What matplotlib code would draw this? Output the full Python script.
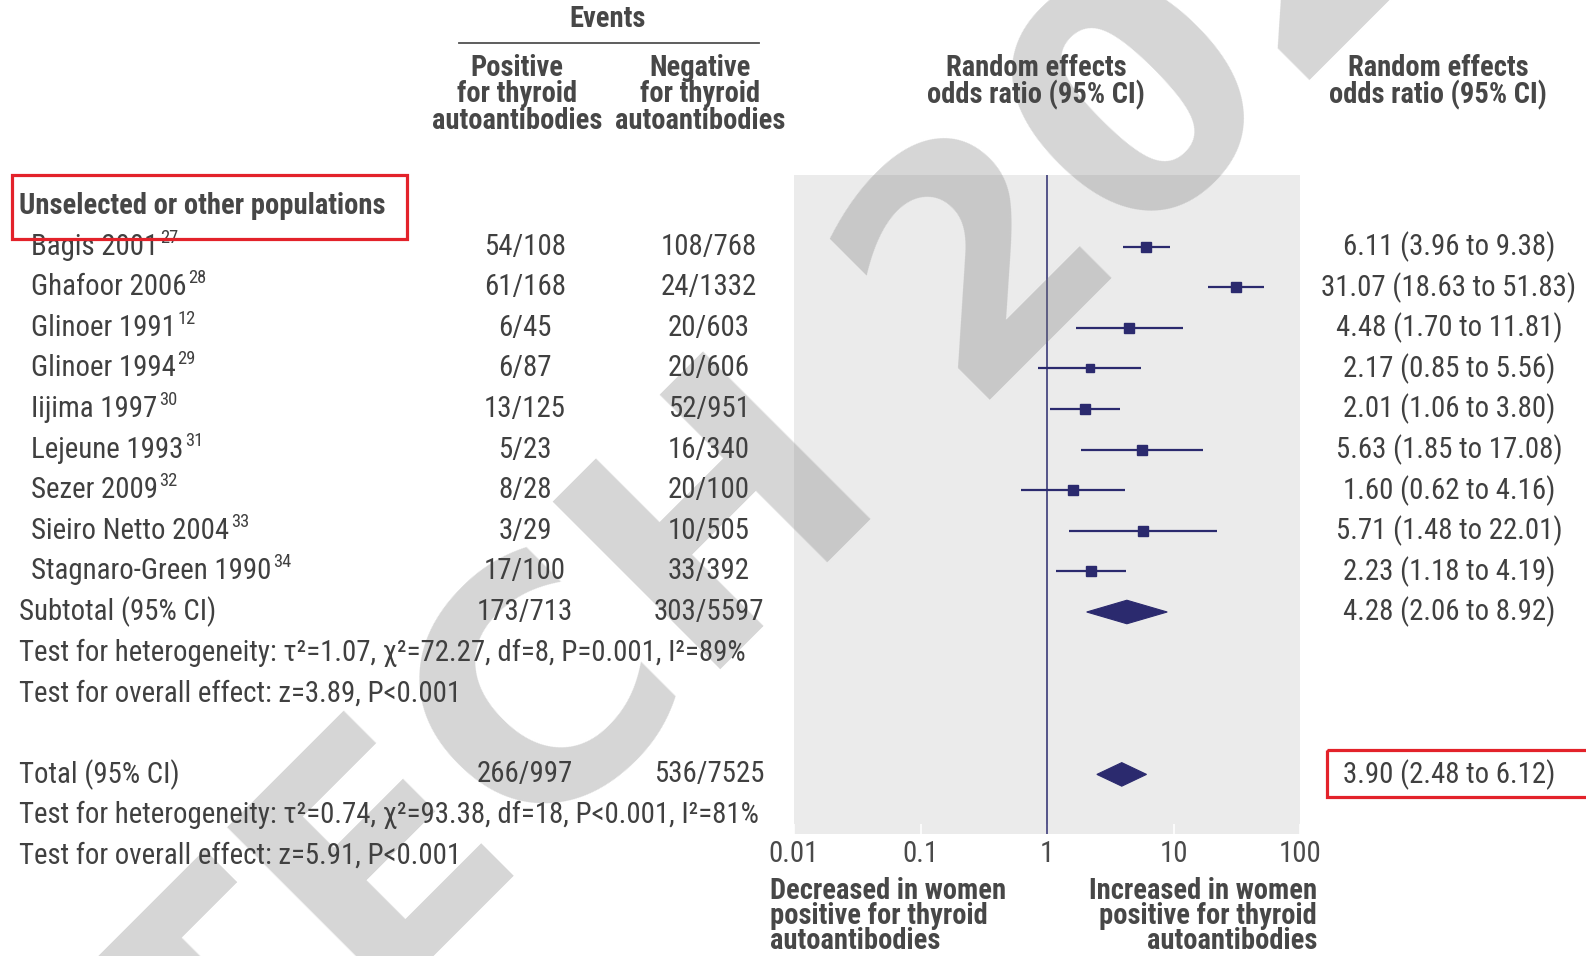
import matplotlib
matplotlib.use("Agg")
import matplotlib.pyplot as plt
from matplotlib.patches import Rectangle, Polygon
from matplotlib import font_manager as fm

# ---------------- data ----------------
studies = ["Bagis 2001", "Ghafoor 2006", "Glinoer 1991", "Glinoer 1994", "Iijima 1997",
           "Lejeune 1993", "Sezer 2009", "Sieiro Netto 2004", "Stagnaro-Green 1990"]
refs = ["27", "28", "12", "29", "30", "31", "32", "33", "34"]
pos_events = ["54/108", "61/168", "6/45", "6/87", "13/125", "5/23", "8/28", "3/29", "17/100"]
neg_events = ["108/768", "24/1332", "20/603", "20/606", "52/951", "16/340", "20/100", "10/505", "33/392"]
odds_ratio = [6.11, 31.07, 4.48, 2.17, 2.01, 5.63, 1.60, 5.71, 2.23]
ci_low = [3.96, 18.63, 1.70, 0.85, 1.06, 1.85, 0.62, 1.48, 1.18]
ci_high = [9.38, 51.83, 11.81, 5.56, 3.80, 17.08, 4.16, 22.01, 4.19]

subtotal_or = [4.28, 2.06, 8.92]
subtotal_events = ["173/713", "303/5597"]
total_or = [3.90, 2.48, 6.12]
total_events = ["266/997", "536/7525"]

group_label = "Unselected or other populations"
subtotal_het = "Test for heterogeneity: τ²=1.07, χ²=72.27, df=8, P=0.001, I²=89%"
subtotal_eff = "Test for overall effect: z=3.89, P<0.001"
total_het = "Test for heterogeneity: τ²=0.74, χ²=93.38, df=18, P<0.001, I²=81%"
total_eff = "Test for overall effect: z=5.91, P<0.001"

col_pos_header = "Positive\nfor thyroid\nautoantibodies"
col_neg_header = "Negative\nfor thyroid\nautoantibodies"
col_or_header = "Random effects\nodds ratio (95% CI)"
left_direction = "Decreased in women\npositive for thyroid\nautoantibodies"
right_direction = "Increased in women\npositive for thyroid\nautoantibodies"
watermark = "TECH 2024"

x_ticks = [0.01, 0.1, 1, 10, 100]
x_tick_labels = ["0.01", "0.1", "1", "10", "100"]

# ---------------- style ----------------
W, H = 1586, 956
NAVY = "#2b2a6e"
TXT = "#404040"
HDR = "#474747"
RED = "#e3222a"
PANEL = "#ebebeb"


def pick_font():
    ttf = fm.fontManager.ttflist
    names = {f.name for f in ttf}
    for n in ["Liberation Sans Narrow", "Roboto Condensed", "Open Sans Condensed",
              "Noto Sans Condensed", "DejaVu Sans Condensed"]:
        if n in names:
            return n, "normal"
    for n in ["DejaVu Sans", "Noto Sans", "Roboto", "Open Sans", "Lato", "Inter"]:
        st = [f.stretch for f in ttf if f.name == n and
              str(f.stretch) in ("condensed", "semi-condensed", "extra-condensed")]
        if st:
            return n, st[0]
    return "Lato", "normal"


FONT, STRETCH = pick_font()
plt.rcParams["font.family"] = [FONT, "DejaVu Sans"]
plt.rcParams["font.stretch"] = STRETCH

square_px = [6.8, 6.8, 6.8, 5.4, 6.8, 6.8, 6.8, 6.8, 6.8]


def row_y(i):
    return 206 + 40.6 * i


fig = plt.figure(figsize=(W / 100, H / 100), dpi=100)
fig.patch.set_facecolor("white")
renderer = fig.canvas.get_renderer()


def width_of(s, size, weight="normal"):
    t = fig.text(0, 0, s, fontsize=size, fontweight=weight)
    w = t.get_window_extent(renderer).width
    t.remove()
    return w


def linespacing_for(s, pitch_px, size, weight="normal"):
    t1 = fig.text(0, 0, s.split("\n")[0], fontsize=size, fontweight=weight)
    tn = fig.text(0, 0, s, fontsize=size, fontweight=weight, linespacing=1.0)
    h1 = t1.get_window_extent(renderer).height
    hn = tn.get_window_extent(renderer).height
    t1.remove()
    tn.remove()
    pitch = (hn - h1) / max(1, s.count("\n"))
    return pitch_px / pitch


BODY = min(21.0, 20 * 726 / width_of(subtotal_het, 20))
BOLD = min(21.0, 20 * 365 / width_of(group_label, 20, "bold"))
LS_HDR = linespacing_for(col_pos_header, 26.0, BOLD, "bold")
LS_DIR = linespacing_for(left_direction, 24.0, BOLD, "bold")

# forest panel
ax = fig.add_axes([794 / W, 1 - 834 / H, (1300 - 794) / W, (834 - 175) / H], zorder=1)
ax.set_facecolor(PANEL)
ax.set_xscale("log")
ax.set_xlim(0.01, 100)
ax.set_ylim((834 - 206) / 40.6, (175 - 206) / 40.6)
for s in ax.spines.values():
    s.set_visible(False)
ax.set_yticks([])
ax.set_xticks(x_ticks)
ax.set_xticklabels(x_tick_labels)
ax.minorticks_off()
ax.tick_params(axis="x", direction="in", length=7, width=1.2, color="white",
               labelsize=BODY, labelcolor="#4a4a4a", pad=4)
ax.axvline(1, color=NAVY, lw=1.1, zorder=2)

for i in range(len(studies)):
    y = i + 1
    ax.plot([ci_low[i], ci_high[i]], [y, y], color=NAVY, lw=1.6, solid_capstyle="butt", zorder=3)
    ax.plot([odds_ratio[i]], [y], marker="s", ms=square_px[i], color=NAVY, mec=NAVY, zorder=4)


def diamond(vals, y, half=0.29):
    est, lo, hi = vals
    ax.add_patch(Polygon([[lo, y], [est, y - half], [hi, y], [est, y + half]],
                         closed=True, fc=NAVY, ec=NAVY, lw=0.8, zorder=4))


diamond(subtotal_or, 10)
diamond(total_or, 14)

# overlay for text
ov = fig.add_axes([0, 0, 1, 1], zorder=3)
ov.set_xlim(0, W)
ov.set_ylim(H, 0)
ov.axis("off")
ov.patch.set_alpha(0)

# watermark (baseline start anchored, rotated 45 degrees)
ov.text(217, 1172, watermark, rotation=45, rotation_mode="anchor", fontsize=234,
        fontweight="bold", family="DejaVu Sans", stretch="normal", color="#767676", alpha=0.3,
        ha="left", va="baseline", zorder=0, clip_on=True)

# headers
ov.text(608, 19, "Events", ha="center", va="center", fontsize=BOLD, fontweight="bold", color=HDR)
ov.plot([459, 759], [42.5, 42.5], color="#505050", lw=1.3)
for x, s in [(517, col_pos_header), (700, col_neg_header), (1036, col_or_header), (1438, col_or_header)]:
    ov.text(x, 54, s, ha="center", va="top", multialignment="center",
            fontsize=BOLD, fontweight="bold", color=HDR, linespacing=LS_HDR)

# group label
ov.text(19, row_y(0), group_label, ha="left", va="center", fontsize=BOLD, fontweight="bold", color=HDR)

for i in range(len(studies)):
    y = row_y(i + 1)
    t = ov.text(31, y, studies[i], ha="left", va="center", fontsize=BODY, color=TXT)
    bb = t.get_window_extent(renderer)
    ov.text(bb.x1 + 1.5, y - 9, refs[i], ha="left", va="center", fontsize=BODY * 0.64, color=TXT)
    ov.text(525, y, pos_events[i], ha="center", va="center", fontsize=BODY, color=TXT)
    ov.text(709, y, neg_events[i], ha="center", va="center", fontsize=BODY, color=TXT)
    ov.text(1449, y, f"{odds_ratio[i]:.2f} ({ci_low[i]:.2f} to {ci_high[i]:.2f})",
            ha="center", va="center", fontsize=BODY, color=TXT)

# subtotal
ov.text(19, row_y(10), "Subtotal (95% CI)", ha="left", va="center", fontsize=BODY, color=TXT)
ov.text(525, row_y(10), subtotal_events[0], ha="center", va="center", fontsize=BODY, color=TXT)
ov.text(709, row_y(10), subtotal_events[1], ha="center", va="center", fontsize=BODY, color=TXT)
ov.text(1449, row_y(10), "%.2f (%.2f to %.2f)" % tuple(subtotal_or), ha="center", va="center",
        fontsize=BODY, color=TXT)
ov.text(19, row_y(11), subtotal_het, ha="left", va="center", fontsize=BODY, color=TXT)
ov.text(19, row_y(12), subtotal_eff, ha="left", va="center", fontsize=BODY, color=TXT)

# total
ov.text(19, row_y(14), "Total (95% CI)", ha="left", va="center", fontsize=BODY, color=TXT)
ov.text(525, row_y(14), total_events[0], ha="center", va="center", fontsize=BODY, color=TXT)
ov.text(709, row_y(14), total_events[1], ha="center", va="center", fontsize=BODY, color=TXT)
ov.text(1449, row_y(14), "%.2f (%.2f to %.2f)" % tuple(total_or), ha="center", va="center",
        fontsize=BODY, color=TXT)
ov.text(19, row_y(15), total_het, ha="left", va="center", fontsize=BODY, color=TXT)
ov.text(19, row_y(16), total_eff, ha="left", va="center", fontsize=BODY, color=TXT)

# direction labels
ov.text(770, 877, left_direction, ha="left", va="top", multialignment="left",
        fontsize=BOLD, fontweight="bold", color=HDR, linespacing=LS_DIR)
ov.text(1317, 877, right_direction, ha="right", va="top", multialignment="right",
        fontsize=BOLD, fontweight="bold", color=HDR, linespacing=LS_DIR)

# red highlight boxes
ov.add_patch(Rectangle((12, 175), 395, 64, fill=False, ec=RED, lw=2.3, zorder=5))
ov.add_patch(Rectangle((1327, 750), 280, 47, fill=False, ec=RED, lw=2.3, zorder=5))

fig.savefig("out.png", dpi=100, facecolor="white")
